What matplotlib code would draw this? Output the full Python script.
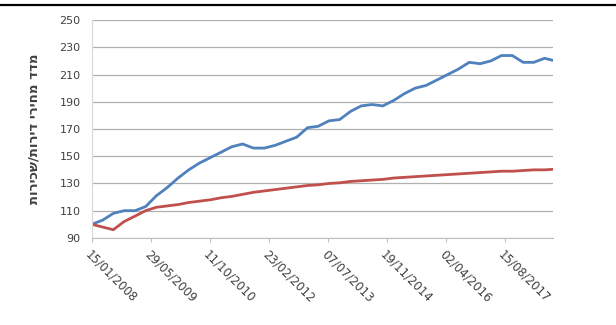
import matplotlib
matplotlib.use("Agg")
import matplotlib.pyplot as plt
import matplotlib.dates as mdates
import pandas as pd
from matplotlib.lines import Line2D

# quarterly readings, first one on 15/01/2008
dates = pd.date_range("2008-01-01", periods=44, freq="3MS") + pd.Timedelta(days=14)

house_prices = [
    100, 103, 108, 110, 110, 113, 121, 127, 134, 140, 145,
    149, 153, 157, 159, 156, 156, 158, 161, 164, 171, 172,
    176, 177, 183, 187, 188, 187, 191, 196, 200, 202, 206,
    210, 214, 219, 218, 220, 224, 224, 219, 219, 222, 220,
]
rent = [
    100, 98, 96, 102, 106, 110, 112.5, 113.5, 114.5, 116, 117,
    118, 119.5, 120.5, 122, 123.5, 124.5, 125.5, 126.5, 127.5, 128.5, 129,
    130, 130.5, 131.5, 132, 132.5, 133, 134, 134.5, 135, 135.5, 136,
    136.5, 137, 137.5, 138, 138.5, 139, 139, 139.5, 140, 140, 140.5,
]

y_ticks = list(range(90, 251, 20))
x_tick_dates = pd.date_range("2008-01-15", periods=8, freq="500D")
y_label = "מדד מחירי דירות/שכירות"

fig = plt.figure(figsize=(6.16, 3.25), dpi=100)
ax = fig.add_axes([0.149, 0.268, 0.749, 0.670])

ax.plot(dates, house_prices, color="#4F81BD", linewidth=2.0)
ax.plot(dates, rent, color="#C0504D", linewidth=2.0)

ax.set_ylim(90, 250)
ax.set_yticks(y_ticks)
ax.set_xlim(pd.Timestamp("2008-01-15"), pd.Timestamp("2008-01-15") + pd.Timedelta(days=3907))
ax.set_xticks(x_tick_dates)
ax.xaxis.set_major_formatter(mdates.DateFormatter("%d/%m/%Y"))

ax.grid(axis="y", color="#B0B0B0", linewidth=0.9)
ax.set_axisbelow(True)
for side in ("top", "right"):
    ax.spines[side].set_visible(False)
ax.spines["left"].set_color("#D9D9D9")
ax.spines["bottom"].set_color("#BFBFBF")

ax.tick_params(axis="y", length=0, labelsize=8, labelcolor="#404040", pad=8)
ax.tick_params(axis="x", length=3, color="#BFBFBF", labelsize=8.5,
               labelcolor="#404040", pad=4)
for lbl in ax.get_xticklabels():
    lbl.set_rotation(-45)
    lbl.set_ha("left")
    lbl.set_va("top")
    lbl.set_rotation_mode("anchor")

# matplotlib has no bidi support: feed the Hebrew in visual order
ax.set_ylabel(y_label[::-1], fontsize=9.5, fontweight="bold", color="#404040", labelpad=14)

fig.add_artist(Line2D([0, 1], [0.985, 0.985], transform=fig.transFigure,
                      color="black", linewidth=1.6))

fig.savefig("out.png", dpi=100)
